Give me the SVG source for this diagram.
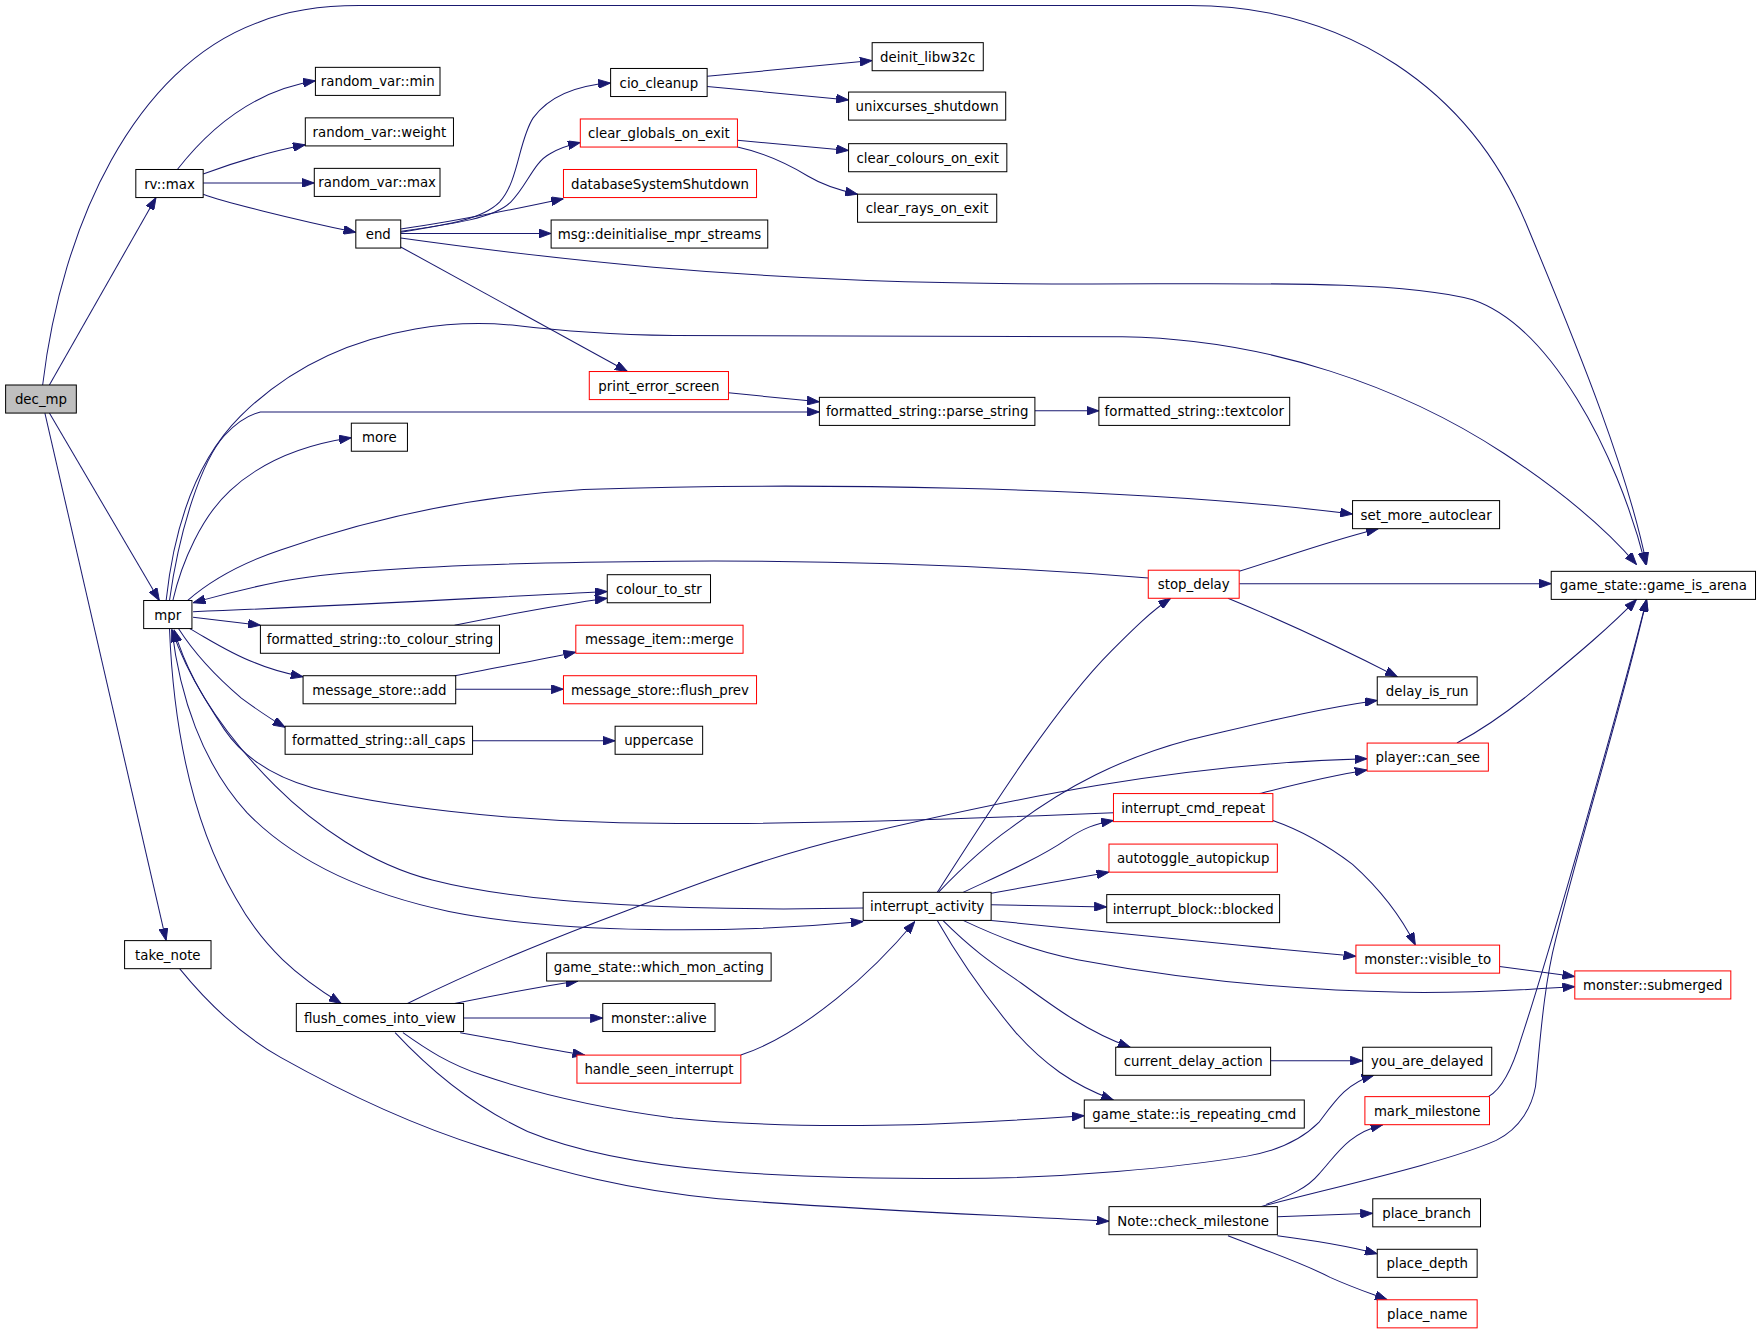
<svg xmlns="http://www.w3.org/2000/svg" width="1760" height="1332" viewBox="0 0 1760 1332">
<defs>
<marker id="ah" viewBox="0 0 11 8" refX="11" refY="4" markerWidth="11" markerHeight="8" orient="auto" markerUnits="userSpaceOnUse">
<path d="M0,0 L11,4 L0,8 z" fill="#191970" stroke="#191970" stroke-width="0.8"/>
</marker>
</defs>
<style>
.n rect{fill:#ffffff;stroke:#000000;stroke-width:0.9}
.n.r rect{stroke:#ff0000}
.n.g rect{fill:#bfbfbf}
.n text{font-family:"DejaVu Sans","Liberation Sans",sans-serif;font-size:11.88px;fill:#000000;text-anchor:middle}
#edges path{fill:none;stroke:#191970;stroke-width:0.9;marker-end:url(#ah)}
</style>
<rect x="0" y="0" width="1760" height="1332" fill="#ffffff"/>
<g transform="scale(1.12245)">
<g id="edges">
<path d="M38,343 C55,200 120,60 230,20 C260,8 290,5 320,5 L1060,5 C1200,5 1310,80 1360,200 C1410,320 1450,420 1467,503"/>
<path d="M44,343 L139,176"/>
<path d="M44,368 L142,535"/>
<path d="M40,368 L148,838"/>
<path d="M158,151 C190,110 230,80 281,72"/>
<path d="M181,155 C200,148 230,137 272,129"/>
<path d="M181,163 L280,163"/>
<path d="M181,173 C200,180 260,195 317,207"/>
<path d="M357,207 C400,200 430,195 445,180 C462,162 462,125 475,105 C490,85 515,76 544,74"/>
<path d="M357,206 C400,200 440,195 455,180 C470,165 475,145 490,137 C500,131 508,129 517,127"/>
<path d="M357,204 C400,198 460,186 502,177"/>
<path d="M357,208 L491,208"/>
<path d="M357,212 C500,232 650,248 850,252 C1050,256 1230,245 1312,267 C1380,290 1440,400 1466,503"/>
<path d="M357,220 L559,331"/>
<path d="M630,68 L777,54"/>
<path d="M630,77 L756,89"/>
<path d="M657,125 L756,134"/>
<path d="M657,131 C680,136 700,145 720,157 C735,166 750,170 764,173"/>
<path d="M649,350 L730,358"/>
<path d="M922,366 L979,366"/>
<path d="M148,535 C155,470 175,410 214,371 C250,335 300,305 370,293 C400,288 430,287 460,290 C500,295 540,298 600,299 L1000,300 C1130,302 1250,345 1340,404 C1390,437 1430,470 1458,503"/>
<path d="M151,535 C160,470 180,410 200,388 C210,377 220,370 232,367 L730,367"/>
<path d="M154,535 C162,500 180,460 205,437 C230,414 265,397 313,390"/>
<path d="M167,535 C190,515 220,500 250,490 C330,462 420,442 520,436 C700,430 1000,432 1205,458"/>
<path d="M1023,515 C900,505 750,499 600,500 C450,501 320,505 250,518 C210,526 190,532 172,537"/>
<path d="M172,545 C300,540 420,533 541,527"/>
<path d="M405,557 C440,550 490,540 541,533"/>
<path d="M172,550 L232,557"/>
<path d="M169,560 C190,572 205,582 226,590 C240,596 255,600 270,603"/>
<path d="M405,602 C440,595 480,588 513,581"/>
<path d="M406,614 L502,614"/>
<path d="M159,560 C175,585 195,605 215,622 C230,633 242,641 254,648"/>
<path d="M421,660 L548,660"/>
<path d="M151,560 C155,660 175,740 210,800 C235,845 265,870 304,894"/>
<path d="M992,724 C850,730 680,736 552,733 C450,731 340,718 279,702 C240,691 215,672 200,650 C180,620 165,595 155,561"/>
<path d="M769,809 C620,812 470,806 385,784 C330,770 280,735 245,700 C200,655 170,610 153,561"/>
<path d="M153,560 C160,620 180,680 220,724 C260,765 320,795 400,812 C500,832 650,832 769,821"/>
<path d="M1104,509 C1140,498 1180,483 1228,471"/>
<path d="M1104,520 L1382,520"/>
<path d="M1094,533 C1150,556 1200,580 1245,603"/>
<path d="M1298,662 C1330,645 1355,625 1375,608 C1405,583 1435,558 1458,534"/>
<path d="M1122,707 C1150,700 1180,692 1218,686"/>
<path d="M1134,731 C1160,740 1185,755 1205,770 C1225,788 1245,810 1261,842"/>
<path d="M835,795 C880,725 940,630 990,580 C1010,560 1025,545 1043,533"/>
<path d="M836,795 C860,770 880,752 900,738 C950,700 1000,675 1060,659 C1120,645 1170,632 1227,624"/>
<path d="M858,795 C890,780 925,765 950,748 C965,738 975,734 992,731"/>
<path d="M882,796 L988,777"/>
<path d="M883,806 L986,808"/>
<path d="M883,820 C1000,832 1100,842 1208,852"/>
<path d="M858,820 C890,835 920,847 960,855 C1050,872 1150,882 1250,884 C1320,885 1370,881 1403,879"/>
<path d="M840,820 C870,850 890,862 910,876 C940,898 970,920 1007,933"/>
<path d="M835,820 C855,855 880,890 905,920 C930,948 955,966 992,980"/>
<path d="M660,940 C690,930 720,910 745,890 C770,870 795,845 815,821"/>
<path d="M1336,861 L1403,870"/>
<path d="M1132,945 L1214,945"/>
<path d="M363,894 C420,866 470,845 530,822 C620,788 680,764 760,745 C900,712 1050,680 1218,676"/>
<path d="M405,894 C440,887 475,880 515,874"/>
<path d="M413,907 L537,907"/>
<path d="M410,920 C450,927 485,934 521,940"/>
<path d="M359,920 C380,935 400,948 430,958 C480,975 540,988 600,996 C720,1008 850,1002 966,994"/>
<path d="M352,920 C380,950 420,985 470,1008 C560,1045 700,1050 850,1050 C950,1050 1050,1040 1111,1030 C1140,1025 1160,1015 1175,1000 C1190,980 1200,965 1224,958"/>
<path d="M1326,977 C1335,972 1345,960 1355,926 C1380,850 1440,640 1467,534"/>
<path d="M1123,1075 C1200,1055 1290,1035 1333,1016 C1355,1005 1365,985 1368,968 C1372,930 1375,880 1386,837 C1410,740 1445,630 1467,534"/>
<path d="M1128,1073 C1150,1065 1165,1058 1175,1046 C1190,1030 1200,1010 1232,1002"/>
<path d="M1138,1084 L1223,1081"/>
<path d="M1138,1101 C1170,1105 1200,1110 1227,1117"/>
<path d="M1094,1101 C1130,1115 1160,1125 1185,1138 C1205,1147 1220,1152 1236,1158"/>
<path d="M160,863 C190,900 220,925 250,942 C300,970 360,1000 430,1022 C500,1045 560,1060 640,1068 C760,1078 880,1082 988,1088"/>
</g>
<g id="dec_mp" class="n g"><rect x="5" y="343" width="63" height="25"/><text x="36.5" y="360">dec_mp</text></g>
<g id="rv_max" class="n"><rect x="121" y="151" width="60" height="25"/><text x="151" y="168">rv::max</text></g>
<g id="random_var_min" class="n"><rect x="281" y="60" width="111" height="25"/><text x="336.5" y="77">random_var::min</text></g>
<g id="random_var_weight" class="n"><rect x="272" y="105" width="132" height="25"/><text x="338" y="122">random_var::weight</text></g>
<g id="random_var_max" class="n"><rect x="280" y="150" width="112" height="25"/><text x="336" y="167">random_var::max</text></g>
<g id="end" class="n"><rect x="317" y="196" width="40" height="25"/><text x="337" y="213">end</text></g>
<g id="cio_cleanup" class="n"><rect x="544" y="61" width="86" height="25"/><text x="587" y="78">cio_cleanup</text></g>
<g id="clear_globals_on_exit" class="n r"><rect x="517" y="106" width="140" height="25"/><text x="587" y="123">clear_globals_on_exit</text></g>
<g id="databaseSystemShutdown" class="n r"><rect x="502" y="151" width="172" height="25"/><text x="588" y="168">databaseSystemShutdown</text></g>
<g id="msg_deinitialise_mpr_streams" class="n"><rect x="491" y="196" width="193" height="25"/><text x="587.5" y="213">msg::deinitialise_mpr_streams</text></g>
<g id="deinit_libw32c" class="n"><rect x="777" y="38" width="99" height="25"/><text x="826.5" y="55">deinit_libw32c</text></g>
<g id="unixcurses_shutdown" class="n"><rect x="756" y="82" width="140" height="25"/><text x="826" y="99">unixcurses_shutdown</text></g>
<g id="clear_colours_on_exit" class="n"><rect x="756" y="128" width="141" height="25"/><text x="826.5" y="145">clear_colours_on_exit</text></g>
<g id="clear_rays_on_exit" class="n"><rect x="764" y="173" width="124" height="25"/><text x="826" y="190">clear_rays_on_exit</text></g>
<g id="game_is_arena" class="n"><rect x="1382" y="509" width="182" height="25"/><text x="1473" y="526">game_state::game_is_arena</text></g>
<g id="print_error_screen" class="n r"><rect x="525" y="331" width="124" height="25"/><text x="587" y="348">print_error_screen</text></g>
<g id="parse_string" class="n"><rect x="730" y="354" width="192" height="25"/><text x="826" y="371">formatted_string::parse_string</text></g>
<g id="textcolor" class="n"><rect x="979" y="354" width="170" height="25"/><text x="1064" y="371">formatted_string::textcolor</text></g>
<g id="more" class="n"><rect x="313" y="377" width="50" height="25"/><text x="338" y="394">more</text></g>
<g id="mpr" class="n"><rect x="128" y="535" width="43" height="25"/><text x="149.5" y="552">mpr</text></g>
<g id="set_more_autoclear" class="n"><rect x="1205" y="446" width="131" height="25"/><text x="1270.5" y="463">set_more_autoclear</text></g>
<g id="colour_to_str" class="n"><rect x="541" y="512" width="92" height="25"/><text x="587" y="529">colour_to_str</text></g>
<g id="stop_delay" class="n r"><rect x="1023" y="508" width="81" height="25"/><text x="1063.5" y="525">stop_delay</text></g>
<g id="to_colour_string" class="n"><rect x="232" y="557" width="213" height="25"/><text x="338.5" y="574">formatted_string::to_colour_string</text></g>
<g id="message_item_merge" class="n r"><rect x="513" y="557" width="149" height="25"/><text x="587.5" y="574">message_item::merge</text></g>
<g id="message_store_add" class="n"><rect x="270" y="602" width="136" height="25"/><text x="338" y="619">message_store::add</text></g>
<g id="message_store_flush_prev" class="n r"><rect x="502" y="602" width="172" height="25"/><text x="588" y="619">message_store::flush_prev</text></g>
<g id="all_caps" class="n"><rect x="254" y="647" width="167" height="25"/><text x="337.5" y="664">formatted_string::all_caps</text></g>
<g id="uppercase" class="n"><rect x="548" y="647" width="78" height="25"/><text x="587" y="664">uppercase</text></g>
<g id="delay_is_run" class="n"><rect x="1227" y="603" width="89" height="25"/><text x="1271.5" y="620">delay_is_run</text></g>
<g id="player_can_see" class="n r"><rect x="1218" y="662" width="108" height="25"/><text x="1272" y="679">player::can_see</text></g>
<g id="interrupt_cmd_repeat" class="n r"><rect x="992" y="707" width="142" height="25"/><text x="1063" y="724">interrupt_cmd_repeat</text></g>
<g id="autotoggle_autopickup" class="n r"><rect x="988" y="752" width="150" height="25"/><text x="1063" y="769">autotoggle_autopickup</text></g>
<g id="interrupt_activity" class="n"><rect x="769" y="795" width="114" height="25"/><text x="826" y="812">interrupt_activity</text></g>
<g id="interrupt_block_blocked" class="n"><rect x="986" y="797" width="154" height="25"/><text x="1063" y="814">interrupt_block::blocked</text></g>
<g id="current_delay_action" class="n"><rect x="994" y="933" width="138" height="25"/><text x="1063" y="950">current_delay_action</text></g>
<g id="is_repeating_cmd" class="n"><rect x="966" y="980" width="196" height="25"/><text x="1064" y="997">game_state::is_repeating_cmd</text></g>
<g id="monster_visible_to" class="n r"><rect x="1208" y="842" width="128" height="25"/><text x="1272" y="859">monster::visible_to</text></g>
<g id="monster_submerged" class="n r"><rect x="1403" y="865" width="139" height="25"/><text x="1472.5" y="882">monster::submerged</text></g>
<g id="you_are_delayed" class="n"><rect x="1214" y="933" width="115" height="25"/><text x="1271.5" y="950">you_are_delayed</text></g>
<g id="mark_milestone" class="n r"><rect x="1216" y="977" width="111" height="25"/><text x="1271.5" y="994">mark_milestone</text></g>
<g id="check_milestone" class="n"><rect x="988" y="1075" width="150" height="25"/><text x="1063" y="1092">Note::check_milestone</text></g>
<g id="place_branch" class="n"><rect x="1223" y="1068" width="96" height="25"/><text x="1271" y="1085">place_branch</text></g>
<g id="place_depth" class="n"><rect x="1227" y="1113" width="89" height="25"/><text x="1271.5" y="1130">place_depth</text></g>
<g id="place_name" class="n r"><rect x="1227" y="1158" width="89" height="25"/><text x="1271.5" y="1175">place_name</text></g>
<g id="take_note" class="n"><rect x="111" y="838" width="77" height="25"/><text x="149.5" y="855">take_note</text></g>
<g id="which_mon_acting" class="n"><rect x="487" y="849" width="200" height="25"/><text x="587" y="866">game_state::which_mon_acting</text></g>
<g id="flush_comes_into_view" class="n"><rect x="264" y="894" width="149" height="25"/><text x="338.5" y="911">flush_comes_into_view</text></g>
<g id="monster_alive" class="n"><rect x="537" y="894" width="100" height="25"/><text x="587" y="911">monster::alive</text></g>
<g id="handle_seen_interrupt" class="n r"><rect x="514" y="940" width="146" height="25"/><text x="587" y="957">handle_seen_interrupt</text></g>
</g>
</svg>
